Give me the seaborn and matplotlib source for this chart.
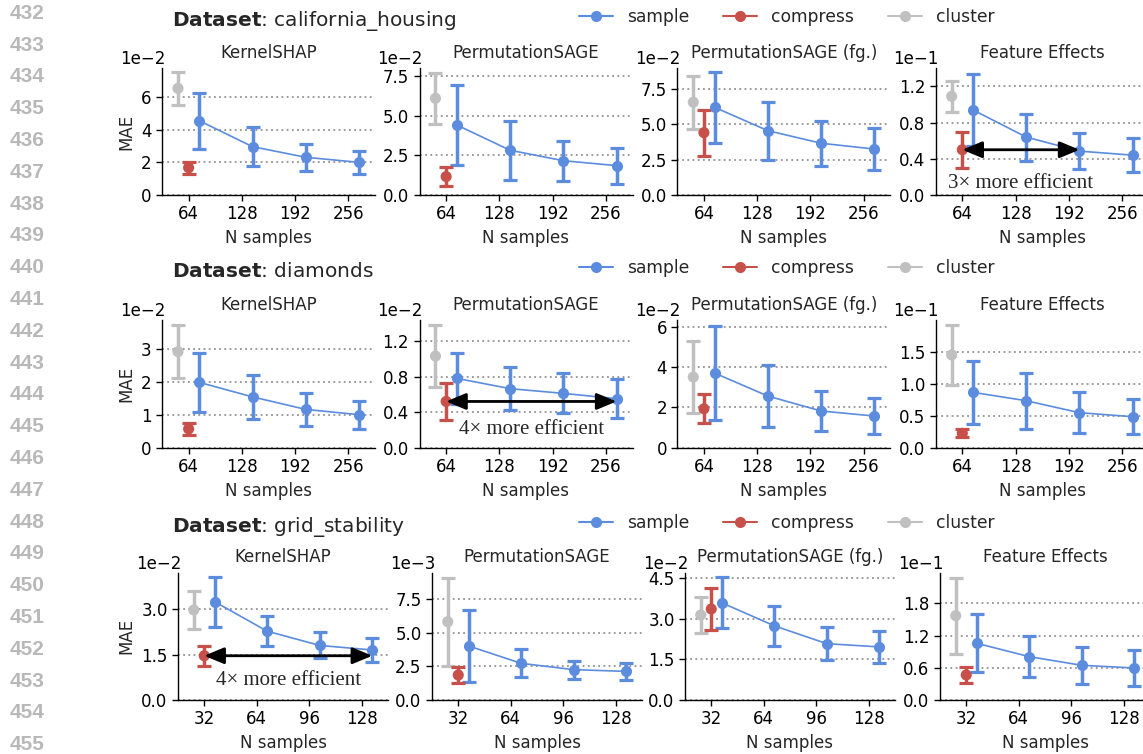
import numpy as np
import pandas as pd
import matplotlib
matplotlib.use("Agg")
import matplotlib.pyplot as plt
from matplotlib.lines import Line2D
from matplotlib.ticker import MultipleLocator, ScalarFormatter
import seaborn as sns

# ---------------- data ----------------
DATASETS = ["california_housing", "diamonds", "grid_stability"]
EXPLAINERS = ["KernelSHAP", "PermutationSAGE", "PermutationSAGE (fg.)", "Feature Effects"]
METHODS = ["sample", "compress", "cluster"]
N_SAMPLES = [[64, 128, 192, 256], [64, 128, 192, 256], [32, 64, 96, 128]]

# california_housing
ch_sample_mean = [[4.55e-2, 2.96e-2, 2.31e-2, 2.00e-2],
                  [4.41e-2, 2.82e-2, 2.16e-2, 1.85e-2],
                  [6.20e-2, 4.55e-2, 3.66e-2, 3.25e-2],
                  [0.94e-1, 0.64e-1, 0.485e-1, 0.44e-1]]
ch_sample_err = [[1.72e-2, 1.19e-2, 0.82e-2, 0.71e-2],
                 [2.50e-2, 1.87e-2, 1.25e-2, 1.13e-2],
                 [2.50e-2, 2.05e-2, 1.60e-2, 1.50e-2],
                 [0.40e-1, 0.26e-1, 0.195e-1, 0.19e-1]]
ch_compress_mean = [1.67e-2, 1.16e-2, 4.41e-2, 0.50e-1]
ch_compress_err = [0.38e-2, 0.58e-2, 1.63e-2, 0.20e-1]
ch_cluster_mean = [6.53e-2, 6.09e-2, 6.56e-2, 1.09e-1]
ch_cluster_err = [1.02e-2, 1.60e-2, 1.88e-2, 0.17e-1]

# diamonds
dm_sample_mean = [[1.98e-2, 1.54e-2, 1.16e-2, 1.00e-2],
                  [0.78e-2, 0.664e-2, 0.611e-2, 0.551e-2],
                  [3.70e-2, 2.56e-2, 1.82e-2, 1.57e-2],
                  [0.865e-1, 0.734e-1, 0.547e-1, 0.484e-1]]
dm_sample_err = [[0.90e-2, 0.66e-2, 0.51e-2, 0.43e-2],
                 [0.29e-2, 0.245e-2, 0.225e-2, 0.22e-2],
                 [2.33e-2, 1.53e-2, 1.00e-2, 0.87e-2],
                 [0.49e-1, 0.435e-1, 0.32e-1, 0.27e-1]]
dm_compress_mean = [0.57e-2, 0.52e-2, 1.93e-2, 0.224e-1]
dm_compress_err = [0.17e-2, 0.205e-2, 0.71e-2, 0.063e-1]
dm_cluster_mean = [2.91e-2, 1.03e-2, 3.50e-2, 1.45e-1]
dm_cluster_err = [0.80e-2, 0.345e-2, 1.78e-2, 0.465e-1]

# grid_stability
gs_sample_mean = [[3.24e-2, 2.27e-2, 1.80e-2, 1.65e-2],
                  [4.02e-3, 2.73e-3, 2.26e-3, 2.13e-3],
                  [3.59e-2, 2.74e-2, 2.08e-2, 1.96e-2],
                  [1.056e-1, 0.807e-1, 0.646e-1, 0.596e-1]]
gs_sample_err = [[0.83e-2, 0.50e-2, 0.43e-2, 0.41e-2],
                 [2.68e-3, 1.05e-3, 0.68e-3, 0.66e-3],
                 [0.94e-2, 0.73e-2, 0.60e-2, 0.59e-2],
                 [0.54e-1, 0.385e-1, 0.345e-1, 0.33e-1]]
gs_compress_mean = [1.46e-2, 1.86e-3, 3.36e-2, 0.466e-1]
gs_compress_err = [0.33e-2, 0.57e-3, 0.79e-2, 0.155e-1]
gs_cluster_mean = [2.97e-2, 5.83e-3, 3.14e-2, 1.57e-1]
gs_cluster_err = [0.64e-2, 3.27e-3, 0.65e-2, 0.71e-1]

SAMPLE_MEAN = [ch_sample_mean, dm_sample_mean, gs_sample_mean]
SAMPLE_ERR = [ch_sample_err, dm_sample_err, gs_sample_err]
COMPRESS_MEAN = [ch_compress_mean, dm_compress_mean, gs_compress_mean]
COMPRESS_ERR = [ch_compress_err, dm_compress_err, gs_compress_err]
CLUSTER_MEAN = [ch_cluster_mean, dm_cluster_mean, gs_cluster_mean]
CLUSTER_ERR = [ch_cluster_err, dm_cluster_err, gs_cluster_err]

# axis settings
Y_TOP = [[7.76e-2, 7.98e-2, 8.96e-2, 1.40e-1],
         [3.87e-2, 1.436e-2, 6.33e-2, 1.995e-1],
         [4.20e-2, 9.48e-3, 4.70e-2, 2.37e-1]]
Y_STEP = [[2e-2, 2.5e-2, 2.5e-2, 0.4e-1],
          [1e-2, 0.4e-2, 2e-2, 0.5e-1],
          [1.5e-2, 2.5e-3, 1.5e-2, 0.6e-1]]

# annotations: (row, col, text, index of sample point the arrow reaches)
ANNOTATIONS = [(0, 3, "3\u00d7 more efficient", 2),
               (1, 1, "4\u00d7 more efficient", 3),
               (2, 0, "4\u00d7 more efficient", 3)]
ANNOT_TEXT_OFFSET_PT = [24, 20, 17.5]

COLORS = {"sample": "#5B8CDE", "compress": "#C8504A", "cluster": "#C0C0C0"}

# ---------------- style ----------------
sns.set_style("ticks")
plt.rcParams.update({
    "font.family": ["DejaVu Sans"],
    "font.size": 12,
    "axes.titlesize": 12,
    "axes.labelsize": 12,
    "xtick.labelsize": 12,
    "ytick.labelsize": 12,
    "legend.fontsize": 12,
    "axes.linewidth": 1.0,
    "xtick.major.size": 4,
    "ytick.major.size": 4,
    "xtick.major.width": 1.0,
    "ytick.major.width": 1.0,
    "axes.edgecolor": "black",
    "xtick.color": "black",
    "ytick.color": "black",
    "axes.unicode_minus": True,
})

W, H = 1143, 754
fig = plt.figure(figsize=(W / 100, H / 100), dpi=100)

# layout in pixels
ROW_TOP = [68.3, 320.0, 572.7]
ROW_BOTTOM = [195.0, 447.7, 700.0]
COL_LEFT = [[162.0, 419.5, 677.3, 935.7],
            [162.0, 419.5, 677.3, 935.7],
            [178.0, 432.0, 685.0, 940.0]]
AX_W = [213.0, 213.0, 210.0]

for r in range(3):
    xs = np.array(N_SAMPLES[r], dtype=float)
    step = xs[1] - xs[0]
    off = 0.2 * step
    for c in range(4):
        left = COL_LEFT[r][c]
        ax = fig.add_axes([left / W, 1 - ROW_BOTTOM[r] / H, AX_W[r] / W,
                           (ROW_BOTTOM[r] - ROW_TOP[r]) / H])
        ax.set_axisbelow(True)
        ax.yaxis.grid(True, linestyle=(0, (1.2, 2.2)), color="#808080", lw=1.1)
        ax.xaxis.grid(False)

        df = pd.DataFrame({"N": xs + off,
                           "MAE": SAMPLE_MEAN[r][c],
                           "err": SAMPLE_ERR[r][c]})
        # sample line + markers
        sns.lineplot(data=df, x="N", y="MAE", ax=ax, color=COLORS["sample"],
                     marker="o", markersize=8, markeredgewidth=0, linewidth=1.2,
                     zorder=4)
        ax.errorbar(df["N"], df["MAE"], yerr=df["err"], fmt="none",
                    ecolor=COLORS["sample"], elinewidth=2.5, capsize=5,
                    capthick=2.3, zorder=3)
        # compress and cluster
        for m, mean_l, err_l, xo in (("cluster", CLUSTER_MEAN, CLUSTER_ERR, -off),
                                     ("compress", COMPRESS_MEAN, COMPRESS_ERR, 0.0)):
            px = [xs[0] + xo]
            py = [mean_l[r][c]]
            ax.errorbar(px, py, yerr=[err_l[r][c]], fmt="none", ecolor=COLORS[m],
                        elinewidth=2.5, capsize=5, capthick=2.3, zorder=3)
            sns.scatterplot(x=px, y=py, ax=ax, color=COLORS[m], s=64,
                            edgecolor="none", zorder=4)

        ax.set_xlim(xs[0] - step / 2, xs[-1] + step / 2)
        ax.set_xticks(xs)
        ax.set_xticklabels([str(int(v)) for v in xs])
        ax.set_ylim(0, Y_TOP[r][c])
        ax.yaxis.set_major_locator(MultipleLocator(Y_STEP[r][c]))
        fmt = ScalarFormatter(useMathText=False)
        fmt.set_scientific(True)
        fmt.set_powerlimits((0, 0))
        ax.yaxis.set_major_formatter(fmt)
        otxt = ax.yaxis.get_offset_text()
        otxt.set_horizontalalignment("right")
        otxt.set_x(0.015)
        ax.set_title(EXPLAINERS[c], y=1.0, pad=7.5)
        ax.set_xlabel("N samples")
        ax.set_ylabel("MAE" if c == 0 else "")
        sns.despine(ax=ax)

        for (ar, ac, txt, idx), toff in zip(ANNOTATIONS, ANNOT_TEXT_OFFSET_PT):
            if ar == r and ac == c:
                y = COMPRESS_MEAN[r][c]
                x0 = xs[0]
                x1 = xs[idx] + off
                ax.annotate("", xy=(x1, y), xytext=(x0, y),
                            arrowprops=dict(arrowstyle="<|-|>,head_length=0.6,head_width=0.25",
                                            color="black", lw=2, shrinkA=0, shrinkB=0,
                                            mutation_scale=20), zorder=6)
                ax.annotate(txt, xy=((x0 + x1) / 2, y), xytext=(0, -toff),
                            textcoords="offset points", ha="center", va="center",
                            fontsize=15, family="Liberation Serif", zorder=6)

# dataset headers
HEADER_Y = [26.0, 277.3, 531.7]
for r, name in enumerate(DATASETS):
    fig.text(171.7 / W, 1 - HEADER_Y[r] / H,
             r"$\mathbf{Dataset}$: " + name, fontsize=14.5, va="baseline", ha="left")

# legends
LEGEND_Y = [17.0, 268.3, 522.7]
handles = [Line2D([0], [0], color=COLORS[m], marker="o", markersize=8,
                  markeredgewidth=0, lw=1.5) for m in METHODS]
for r in range(3):
    fig.legend(handles, METHODS, ncol=3, frameon=False, loc="center",
               bbox_to_anchor=(786.8 / W, 1 - LEGEND_Y[r] / H), fontsize=12.3)

# line numbers in the margin
for i in range(24):
    fig.text(27.5 / W, 1 - (13.3 + 31.8 * i) / H, str(432 + i), ha="center",
             va="center", color="#B8B8B8", fontweight="bold", fontsize=15,
             family="Liberation Sans")

fig.savefig("out.png", dpi=100)
